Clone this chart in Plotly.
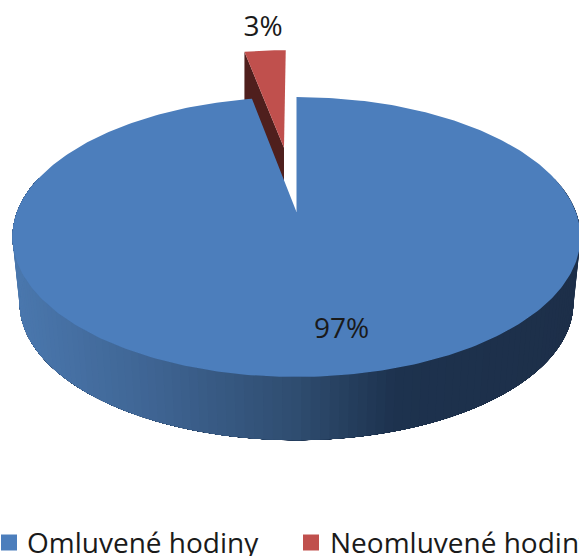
import numpy as np
import plotly.graph_objects as go

categories = ["Omluvené hodiny", "Neomluvené hodiny"]
values = [97, 3]
labels = ["97%", "3%"]
colors = ["#4c7ebc", "#c0504d"]
wall_dark = "#4f1f1d"
explode_red = 0.52

W, H = 579, 556
cx, ay, k, K, p = 296.5, 212.0, 135.5, 279.4, 0.1786
cy_top, cy_bot, depth_scale_x, depth_scale_y = 237.0, 303.0, 0.975, 0.98

def project(u, v):
    return cx + K * u / (1 + p * v), ay - k * v / (1 + p * v)

def rim(theta, du=0.0, dv=0.0):
    return project(np.sin(theta) + du, np.cos(theta) + dv)

def lower(x, y):
    return cx + (x - cx) * depth_scale_x, cy_bot + (y - cy_top) * depth_scale_y

stops_x = [17, 150, 300, 400, 579]
stops_rgb = np.array([[74, 119, 173], [63, 101, 148], [47, 77, 112], [29, 50, 78], [29, 47, 73]])

def wall_color(x):
    c = [np.interp(x, stops_x, stops_rgb[:, i]) for i in range(3)]
    return "rgb(%d,%d,%d)" % tuple(int(round(v)) for v in c)

fig = go.Figure()

def poly(xs, ys, color, line=0):
    fig.add_trace(go.Scatter(
        x=list(xs), y=list(ys), mode="lines", fill="toself", fillcolor=color,
        line=dict(color=color, width=line), hoverinfo="skip", showlegend=False))

share_blue, share_red = [v / sum(values) for v in values]
red_sweep = 2 * np.pi * share_red
mid = -red_sweep / 2
du, dv = explode_red * np.sin(mid), explode_red * np.cos(mid)

# exploded slice: inner wall, then top face
ax, ay_r = project(du, dv)
lx, ly = rim(-red_sweep, du, dv)
wall_h = 48
poly([lx, ax, ax, lx], [ly, ay_r, ay_r + wall_h, ly + wall_h], wall_dark)
t_red = np.linspace(-red_sweep, 0, 12)
rx, ry = rim(t_red, du, dv)
poly(list(rx) + [ax], list(ry) + [ay_r], colors[1])

# outer wall of the large slice: overlapping bands, painted right to left,
# so that neighbouring shades leave no seams
thetas = np.linspace(np.radians(75), np.radians(285), 130)
end = np.radians(285)
for a in thetas[:-1]:
    t = np.linspace(a, end, 80)
    xa, ya = rim(t)
    xb, yb = lower(xa, ya)
    poly(list(xa) + list(xb[::-1]), list(ya) + list(yb[::-1]), wall_color(xa[0]))

# top face of the large slice
t_blue = np.linspace(0, 2 * np.pi * share_blue, 360)
bx, by = rim(t_blue)
poly(list(bx) + [cx], list(by) + [ay], colors[0])

text_font = dict(family="Open Sans", color="#1a1a1a")
fig.add_trace(go.Scatter(x=[341.5], y=[331], mode="text", text=[labels[0]],
                         textfont=dict(size=28, **text_font), hoverinfo="skip", showlegend=False))
fig.add_trace(go.Scatter(x=[263], y=[28.5], mode="text", text=[labels[1]],
                         textfont=dict(size=28, **text_font), hoverinfo="skip", showlegend=False))

# legend
for name, col, sx, tx in zip(categories, colors, [9, 311], [26.5, 329.5]):
    fig.add_trace(go.Scatter(x=[sx], y=[542.5], mode="markers",
                             marker=dict(symbol="square", size=16, color=col),
                             hoverinfo="skip", showlegend=False))
    fig.add_annotation(x=tx, y=541.5, text=name, showarrow=False, xanchor="left", yanchor="middle",
                       xshift=-2, font=dict(family="Open Sans", size=28, color="#1a1a1a"))

fig.update_layout(
    width=W, height=H, margin=dict(l=0, r=0, t=0, b=0),
    paper_bgcolor="white", plot_bgcolor="white",
    xaxis=dict(range=[0, W], visible=False, fixedrange=True),
    yaxis=dict(range=[H, 0], visible=False, fixedrange=True),
)
fig.write_html("out.html", config=dict(displayModeBar=False),
               post_script="document.body.style.margin='0';document.body.style.overflow='hidden';")
